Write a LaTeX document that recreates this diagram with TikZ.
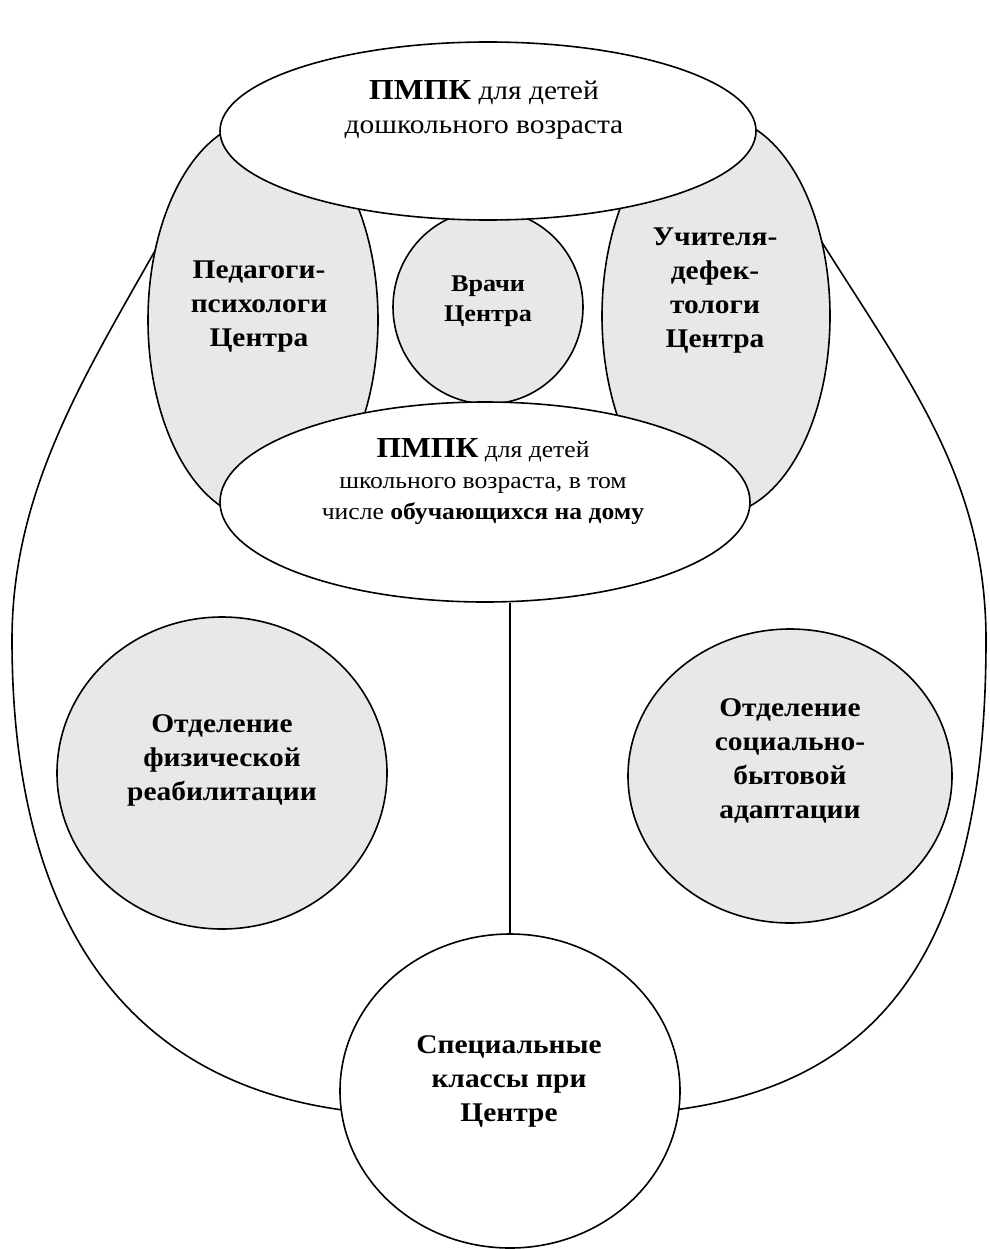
\documentclass[tikz,border=0pt]{standalone}
\usepackage{fontspec}
\setmainfont{Liberation Serif}[FakeStretch=1.09]
\usetikzlibrary{shapes.geometric}
\newcommand{\pmpk}{{\fontsize{29}{31}\selectfont\bfseries ПМПК}}
\tikzset{
  shp/.style={ellipse, draw=black, line width=1.6pt, inner sep=0pt},
  grayshp/.style={shp, fill=black!9},
  whiteshp/.style={shp, fill=white},
  lbl/.style={align=center, inner sep=0pt, font=\fontsize{27}{34}\selectfont},
  blbl/.style={lbl, font=\fontsize{27}{34}\selectfont\bfseries},
  outerline/.style={line width=1.6pt},
}
\begin{document}
\begin{tikzpicture}[x=1pt,y=-1pt]
\useasboundingbox (0,0) rectangle (989,1249);
\fill[white] (0,0) rectangle (989,1249);
% outer egg-shaped contour
\coordinate (oL) at (175,215);
\coordinate (oR) at (805,215);
\draw[outerline] (oL) .. controls (95,360) and (12,480) .. (12,640)
  .. controls (12,960) and (160,1115) .. (420,1115) -- (590,1115)
  .. controls (860,1115) and (986,980) .. (986,640)
  .. controls (986,470) and (900,370) .. (oR);
% shapes
\node[grayshp, minimum width=230, minimum height=400] (ped) at (263,320) {};
\node[grayshp, minimum width=228, minimum height=398] (uch) at (716,316) {};
\node[grayshp, minimum width=190, minimum height=194] (vra) at (488,307) {};
\node[whiteshp, minimum width=536, minimum height=178] (top) at (488,131) {};
\node[whiteshp, minimum width=530, minimum height=200] (school) at (485,502) {};
\node[grayshp, minimum width=330, minimum height=312] (fiz) at (222,773) {};
\node[grayshp, minimum width=324, minimum height=294] (soc) at (790,776) {};
\node[whiteshp, minimum width=340, minimum height=314] (spec) at (510,1091) {};
\draw[outerline] (school.south -| spec.north) -- (spec.north);
% texts
\node[lbl] (tTop) at (484,110) {\pmpk{} для детей\\дошкольного возраста};
\node[lbl, font=\fontsize{23.5}{31}\selectfont] (tSchool) at (483,482) {\pmpk{} для детей\\школьного возраста, в том\\числе \textbf{обучающихся на дому}};
\node[blbl] (tPed) at (259,307) {Педагоги-\\психологи\\Центра};
\node[blbl] (tUch) at (715,291) {Учителя-\\дефек-\\тологи\\Центра};
\node[blbl, font=\fontsize{24}{30}\selectfont\bfseries] (tVra) at (488,301) {Врачи\\Центра};
\node[blbl] (tFiz) at (222,760) {Отделение\\физической\\реабилитации};
\node[blbl] (tSoc) at (790,761) {Отделение\\социально-\\бытовой\\адаптации};
\node[blbl] (tSpec) at (509,1081) {Специальные\\классы при\\Центре};
\end{tikzpicture}
\end{document}
